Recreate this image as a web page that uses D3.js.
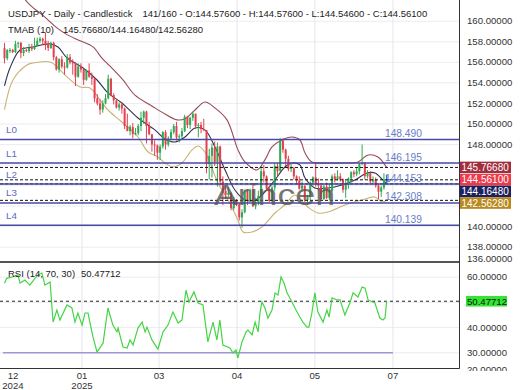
<!DOCTYPE html>
<html>
<head>
<meta charset="utf-8">
<script src="https://cdn.jsdelivr.net/npm/d3@7"></script>
<style>
  body { margin: 0; background: #fff; }
  svg { display: block; }
  text { font-family: "Liberation Sans", Arial, sans-serif; }
</style>
</head>
<body>
<svg id="chart"></svg>
<script>
// daily candles, index 0 = first visible bar
const openP = [
  157.4,156.4,157.1,157.2,157.0,157.8,157.9,156.9,157.2,157.1,
  157.4,157.3,157.6,158.1,158.3,158.1,157.7,157.4,157.9,156.5,
  155.3,156.3,155.6,155.5,156.5,156.0,155.9,154.6,155.6,155.3,
  154.3,155.2,154.6,154.4,152.5,152.0,151.4,152.0,152.5,154.4,
  152.8,152.3,151.6,151.9,151.5,149.8,149.3,149.7,149.0,149.1,
  149.8,150.6,151.2,149.8,149.0,148.0,147.9,147.2,147.8,149.2,
  148.0,148.6,149.2,149.8,148.7,148.8,149.3,150.7,149.9,150.6,
  151.0,149.8,149.9,149.5,149.4,146.1,146.9,147.7,146.3,147.8,
  144.4,143.5,143.1,143.3,141.8,142.6,142.2,140.9,141.4,143.4,
  142.6,143.6,142.0,142.3,143.0,145.4,144.9,143.7,142.5,143.8,
  145.9,145.4,148.4,147.5,146.6,145.6,145.7,144.9,144.5,143.7,
  144.0,142.6,142.9,144.3,144.8,144.2,144.0,142.7,143.9,142.8,
  143.5,144.9,144.6,144.9,144.6,143.6,144.1,144.7,145.3,145.1,
  145.4,146.1,146.2,144.9,145.2,144.4,144.6,144.0,143.4,143.8,
  144.576];
const highP = [
  157.9,157.3,157.4,157.3,158.1,158.0,158.0,157.5,157.3,157.8,
  157.8,158.4,158.4,158.5,158.4,158.9,158.1,158.0,158.0,156.6,
  156.4,156.6,156.0,156.8,156.8,156.3,156.0,155.9,155.9,155.4,
  155.3,155.9,155.0,154.5,152.9,152.4,152.3,152.9,154.8,154.5,
  153.0,152.3,152.1,152.1,151.6,151.0,149.9,150.1,149.6,150.0,
  151.2,151.3,151.3,150.2,149.0,148.4,148.0,148.0,149.3,149.4,
  148.8,149.5,150.0,150.2,149.0,149.6,150.9,150.8,150.7,151.2,
  151.0,150.1,150.2,150.5,149.4,147.6,148.1,148.3,148.2,147.9,
  144.9,143.9,143.8,143.3,142.9,142.7,142.3,141.7,143.6,143.6,
  143.7,144.0,142.8,143.5,145.9,146.0,145.0,144.0,144.0,146.2,
  146.2,148.6,148.6,147.6,146.9,146.2,145.8,145.0,144.9,144.4,
  144.0,143.1,144.4,144.9,146.3,144.7,144.1,144.1,144.3,144.2,
  145.1,145.2,145.5,145.2,144.7,144.5,144.8,145.4,145.5,145.8,
  146.2,148.0,146.3,145.5,145.4,144.9,144.8,144.2,144.0,145.2,
  144.576];
const lowP = [
  155.9,156.2,156.9,156.9,156.9,157.4,156.4,156.6,157.0,156.9,
  157.1,157.2,157.6,157.9,157.7,157.2,157.1,157.3,156.2,155.2,
  155.0,155.4,154.8,155.4,155.8,154.8,153.7,154.5,155.0,153.8,
  154.2,154.5,153.8,152.1,151.8,150.9,151.1,151.9,152.4,152.7,
  151.9,151.5,151.3,151.0,149.5,149.3,148.9,148.6,148.9,148.9,
  149.3,150.0,148.1,148.9,147.3,146.9,146.5,146.5,147.6,147.5,
  147.8,148.5,149.0,148.4,148.2,148.6,149.2,149.6,149.5,150.3,
  149.5,148.7,149.1,149.3,145.2,144.6,144.8,145.9,143.9,144.0,
  142.1,142.7,142.9,141.6,141.6,142.0,140.6,139.9,141.3,142.1,
  142.4,141.9,141.7,142.1,142.9,144.3,143.5,142.4,142.4,143.5,
  144.9,145.4,147.2,145.9,145.4,145.3,144.6,144.2,143.6,143.4,
  142.4,142.1,142.6,144.0,143.9,143.5,142.6,142.6,142.7,142.6,
  143.4,144.3,144.5,144.4,143.3,142.8,143.7,144.3,144.8,144.9,
  145.1,146.0,144.6,144.7,144.2,144.2,143.8,142.7,142.9,143.6,
  144.546];
const closeP = [
  156.4,157.2,157.2,157.0,157.8,157.9,156.9,157.2,157.1,157.4,
  157.3,157.6,158.1,158.3,158.1,157.7,157.4,157.9,156.5,155.3,
  156.3,155.6,155.5,156.5,156.0,155.9,154.6,155.6,155.3,154.3,
  155.2,154.6,154.4,152.5,152.0,151.4,152.0,152.5,154.4,152.8,
  152.3,151.6,151.9,151.5,149.8,149.3,149.7,149.0,149.1,149.8,
  150.6,151.2,149.8,149.0,148.0,147.9,147.2,147.8,149.2,148.0,
  148.6,149.2,149.8,148.7,148.8,149.3,150.7,149.9,150.6,151.0,
  149.8,149.9,149.5,149.4,146.1,146.9,147.7,146.3,147.8,144.4,
  143.5,143.1,143.3,141.8,142.6,142.2,140.9,141.4,143.4,142.6,
  143.6,142.0,142.3,143.0,145.4,144.9,143.7,142.5,143.8,145.9,
  145.4,148.4,147.5,146.6,145.6,145.7,144.9,144.5,143.7,144.0,
  142.6,142.9,144.3,144.8,144.2,144.0,142.7,143.9,142.8,143.5,
  144.9,144.6,144.9,144.6,143.6,144.1,144.7,145.3,145.1,145.4,
  146.1,146.2,144.9,145.2,144.4,144.6,144.0,143.4,143.8,144.6,
  144.561];

// TMA bands as [bar index, price]
const upperBand = [[0,163.5],[5.7,162.6],[9.3,161.6],[14.8,160.4],[19.2,159.35],[22.9,158.7],[27.7,158.1],
  [32.4,157.5],[35.7,156.4],[38.6,155.65],[43.4,154.3],[47.8,152.8],[54,151.75],[58.8,150.97],[63.2,150.4],
  [66.1,150.5],[69.8,151.36],[73.4,152.14],[77.1,151.56],[81.5,150.4],[85.5,147.5],[88.1,146.3],[92.5,145.52],
  [95.4,146.5],[98,147.76],[101.6,148.44],[105.3,148.73],[108.2,148.44],[110.1,147.18],[112.6,146.3],
  [118.5,146.2],[124.7,146.2],[129.5,146.3],[133.2,146.98],[136.8,146.79],[140,145.7668]];
const middleBand = [[0,153.7],[2,155.45],[5.7,157.2],[10.4,157.5],[16.7,157.79],[19.6,157.5],[22.9,156.43],
  [28.8,155.45],[33.9,154.28],[37.9,153.02],[43,152.04],[48.9,150.58],[55.1,149.42],[58.8,148.54],[62.4,148.25],
  [66.1,148.73],[69.8,149.61],[73.4,149.42],[77.1,147.76],[80.8,145.52],[84.4,143.57],[88.1,142.6],[91.8,142.6],
  [95.4,143.38],[99.1,144.55],[102.7,145.81],[105.3,146.2],[108.2,146.01],[110.1,144.74],[113.7,143.77],
  [118.5,143.77],[123.6,144.06],[128.4,144.55],[132.8,145.23],[135.7,145.23],[138.4,144.6],[140,144.1648]];
const lowerBand = [[0,151.4],[3.1,154.28],[8.2,155.74],[10.4,155.94],[16.7,156.04],[18.5,155.74],[22.9,154.58],
  [27.7,153.6],[31.3,153.51],[35,152.34],[37.9,151.36],[43,150.19],[48.9,148.73],[52.6,147.27],[56.2,146.79],
  [58.8,146.2],[61.7,145.81],[65,146.2],[68.7,147.47],[70.9,147.86],[73.4,147.27],[78.2,144.26],[81.9,142.6],
  [85.5,140.65],[87.4,139.48],[90.7,139.48],[94.3,139.97],[99.1,141.33],[102.7,142.11],[106.4,143.09],
  [111.1,141.92],[114.8,141.33],[118.5,141.43],[124.7,142.11],[130.9,142.6],[135.7,142.89],[138.4,142.41],
  [140,142.5628]];

// RSI(14) as [bar index, value]
const rsiPoints = [[0,57.6],[0.8,59.6],[3.1,60.2],[4.9,60.9],[5.7,57.7],[7.5,58.9],[9.3,56.9],[11.2,59.7],
  [12.3,60.9],[13.7,61.7],[14.8,56.9],[16.7,58.1],[17.8,42.2],[19.2,47],[20.3,43],[22.9,49],[24.7,47.8],
  [25.8,42.2],[26.9,45.8],[28.4,41],[29.5,45.8],[30.6,45.8],[32.4,36.3],[33.9,30.3],[36.1,33.8],[37.9,47.8],
  [39.7,41],[41.2,38.3],[41.6,39.8],[43.4,32.3],[44.9,31.9],[46,35.1],[47.1,33.1],[48.9,39.8],[50.4,42.2],
  [51.5,38.3],[52.2,40.2],[54,35.1],[56.2,31.5],[58.1,38.3],[59.9,41],[61.7,46.2],[63.6,41.8],[65,43],
  [66.5,54.9],[67.6,50.2],[69.4,54.2],[70.9,49.8],[72.7,49],[74.5,34.3],[76.4,42.2],[77.8,35.1],[78.9,43],
  [80,33.1],[82.6,31.9],[83.7,29.9],[84.8,31.1],[85.5,27.9],[87,34.3],[88.5,38.3],[89.2,39],[90.7,37.1],
  [91.8,42.2],[92.9,38.3],[93.6,45.8],[94.3,50.2],[95.4,47.8],[96.5,43.8],[98,47],[99.1,53.8],[100.2,53],
  [101.3,60.1],[102.4,57.7],[103.5,53.8],[105.3,50.2],[106.4,47.8],[108.2,44.2],[109.3,42.2],[110.8,40.2],
  [111.5,40.2],[112.6,45.8],[113.7,53.8],[114.8,46.2],[116.7,42.2],[118.1,47],[118.9,44.2],[120,51.8],
  [121.8,51],[122.9,51],[124.7,45],[126.5,49.8],[127.7,53.8],[129.5,52.2],[131,56.1],[132.1,55.7],
  [133.2,51],[135.7,49.8],[137.5,43.8],[138.6,43],[139.4,43.8],[140,50.47712]];

const levelNames = ["L0", "L1", "L2", "L3", "L4"];
const levelValues = [148.490, 146.195, 144.153, 142.308, 140.139];

const lastValues = [145.7668, 144.561, 144.1648, 142.5628];
const lastColors = ["#a12d3d", "#ec3a4b", "#1c215e", "#b8891e"];
const rsiLast = 50.47712;
const rsiOversold = 30;

const priceTicks = d3.range(136, 161, 2);
const rsiTicks = [20, 30, 40, 50, 60];
const monthTickIdx = [3.1, 28.4, 56.6, 85.2, 113.7, 142.3];
const monthLabels = ["12", "01", "03", "04", "05", "07"];
const yearLabels = ["2024", "2025", "", "", "", ""];

const titleText = "USDJPY - Daily - Candlestick";
const ohlcText = "141/160 - O:144.57600 - H:144.57600 - L:144.54600 - C:144.56100";
const tmabText = "TMAB (10)";
const tmabValText = "145.76680/144.16480/142.56280";

const width = 520, height = 390;
const plotW = 459;
const mainTop = 0, mainBottom = 262;
const rsiTop = 262, rsiBottom = 368;
const FONT = "Liberation Sans, Arial, sans-serif";

const svg = d3.select("#chart").attr("width", width).attr("height", height);
svg.append("rect").attr("width", width).attr("height", height).attr("fill", "#fff");

const x = d3.scaleLinear().domain([-1.65, 166.5]).range([0, plotW]);
const y = d3.scaleLinear().domain([136.56, 162.07]).range([mainBottom, mainTop]);
const yRsi = d3.scaleLinear().domain([23.94, 66.08]).range([rsiBottom, rsiTop]);
const fmt = d3.format(".5f");

const label = (parent, tx, ty, size, fill, s) => parent.append("text")
  .attr("x", tx).attr("y", ty).attr("font-family", FONT)
  .attr("font-size", size).attr("fill", fill).text(s);

const defs = svg.append("defs");
const clip = (id, cx, cy, w, h) => defs.append("clipPath").attr("id", id)
  .append("rect").attr("x", cx).attr("y", cy).attr("width", w).attr("height", h);
clip("clipMain", 0, mainTop, plotW, mainBottom - mainTop);
clip("clipRsi", 0, rsiTop, plotW, rsiBottom - rsiTop);
clip("clipMainAxis", plotW, mainTop, width - plotW, mainBottom - mainTop);
clip("clipRsiAxis", plotW, rsiTop + 1, width - plotW, rsiBottom - rsiTop + 2);

// ---- main pane
const g = svg.append("g").attr("clip-path", "url(#clipMain)");

g.selectAll(".hgrid").data(priceTicks).enter().append("line")
  .attr("x1", 0).attr("x2", plotW)
  .attr("y1", d => y(d)).attr("y2", d => y(d))
  .attr("stroke", "#ececf2");
g.selectAll(".vgrid").data(monthTickIdx.slice(1)).enter().append("line")
  .attr("x1", d => x(d)).attr("x2", d => x(d))
  .attr("y1", mainTop).attr("y2", mainBottom)
  .attr("stroke", "#e6e6ee");

const bandLine = d3.line().x(d => x(d[0])).y(d => y(d[1])).curve(d3.curveCatmullRom);
[[upperBand, "#9a4a58"], [middleBand, "#2f3350"], [lowerBand, "#c9b273"]].forEach(([data, col]) => {
  g.append("path").datum(data).attr("d", bandLine)
    .attr("fill", "none").attr("stroke", col).attr("stroke-width", 1.1);
});

const candles = openP.map((o, i) => ({ i, o, h: highP[i], l: lowP[i], c: closeP[i] }));
const candleColor = d => d.i === candles.length - 1 ? "#3a78c4" : (d.c >= d.o ? "#2eaa52" : "#e5404f");

g.selectAll(".wick").data(candles).enter().append("line")
  .attr("x1", d => x(d.i)).attr("x2", d => x(d.i))
  .attr("y1", d => y(d.h)).attr("y2", d => y(d.l))
  .attr("stroke", candleColor).attr("stroke-width", 1);

g.selectAll(".body").data(candles).enter().append("rect")
  .attr("x", d => x(d.i) - 1)
  .attr("y", d => y(Math.max(d.o, d.c)))
  .attr("width", 2)
  .attr("height", d => Math.max(1, Math.abs(y(d.o) - y(d.c))))
  .attr("fill", candleColor);

// marker on the current bar
const lastBar = candles[candles.length - 1];
g.append("line")
  .attr("x1", x(lastBar.i)).attr("x2", x(lastBar.i) + 4)
  .attr("y1", y(lastBar.c)).attr("y2", y(lastBar.c))
  .attr("stroke", "#3a78c4").attr("stroke-width", 1.5);
g.append("line")
  .attr("x1", x(lastBar.i)).attr("x2", x(lastBar.i))
  .attr("y1", y(lastBar.c) - 5).attr("y2", y(lastBar.c) + 4)
  .attr("stroke", "#3a78c4").attr("stroke-width", 1.5);

g.selectAll(".lastline").data(lastValues).enter().append("line")
  .attr("x1", 0).attr("x2", plotW)
  .attr("y1", d => y(d)).attr("y2", d => y(d))
  .attr("stroke", "#111").attr("stroke-dasharray", "3,2");

g.selectAll(".level").data(levelValues).enter().append("line")
  .attr("x1", 0).attr("x2", plotW)
  .attr("y1", d => y(d)).attr("y2", d => y(d))
  .attr("stroke", "#4848a6").attr("stroke-width", 1.5);

levelValues.forEach((v, i) => {
  label(g, 6, y(v) - 6.5, 9.8, "#5b6cc0", levelNames[i]);
  label(g, 385, y(v) - 2.5, 10.2, "#6a7cc8", v.toFixed(3));
});

label(g, 214, 205, 30, "#555", "Arincen")
  .attr("opacity", 0.8)
  .attr("textLength", 121).attr("lengthAdjust", "spacingAndGlyphs");

// header
label(svg, 8, 16.5, 9.5, "#222", titleText);
label(svg, 142.5, 16.5, 9.5, "#222", ohlcText);
label(svg, 8, 32.5, 9.5, "#222", tmabText);
label(svg, 63, 32.5, 9.5, "#222", tmabValText);

// last-value boxes, stacked so they do not overlap
const boxH = 11.6;
const boxY = [];
lastValues.forEach((v, i) => {
  const prev = i ? boxY[i - 1] : -Infinity;
  boxY.push(Math.max(y(v), prev + boxH));
});

// price axis (labels hidden where a value box sits)
const axMain = svg.append("g").attr("clip-path", "url(#clipMainAxis)");
const visiblePriceTicks = priceTicks.filter(p => boxY.every(b => Math.abs(y(p) - b) > 9));
axMain.append("g")
  .attr("transform", `translate(${plotW + 8},0)`)
  .call(d3.axisRight(y).tickValues(visiblePriceTicks).tickFormat(fmt).tickSize(0).tickPadding(0))
  .call(a => a.select(".domain").remove())
  .call(a => a.selectAll(".tick").attr("transform", d => `translate(0,${Math.min(y(d), mainBottom - 3)})`))
  .call(a => a.selectAll("text").attr("font-size", 9.6).attr("fill", "#333").attr("font-family", FONT));

lastValues.forEach((v, i) => {
  svg.append("rect").attr("x", plotW + 1).attr("y", boxY[i] - boxH / 2).attr("width", 51).attr("height", boxH)
    .attr("fill", lastColors[i]);
  label(svg, plotW + 2.5, boxY[i] + 3.6, 10, "#fff", fmt(v));
});

// ---- RSI pane
const r = svg.append("g").attr("clip-path", "url(#clipRsi)");
r.selectAll(".hgrid").data(rsiTicks).enter().append("line")
  .attr("x1", 0).attr("x2", plotW)
  .attr("y1", d => yRsi(d)).attr("y2", d => yRsi(d))
  .attr("stroke", "#ececf2");
r.selectAll(".vgrid").data(monthTickIdx.slice(1)).enter().append("line")
  .attr("x1", d => x(d)).attr("x2", d => x(d))
  .attr("y1", rsiTop).attr("y2", rsiBottom)
  .attr("stroke", "#e6e6ee");

r.append("line")
  .attr("x1", x(rsiPoints[0][0] - 0.6)).attr("x2", x(monthTickIdx[monthTickIdx.length - 1]))
  .attr("y1", yRsi(rsiOversold)).attr("y2", yRsi(rsiOversold))
  .attr("stroke", "#a095d8").attr("stroke-width", 1.5);

r.append("line")
  .attr("x1", 0).attr("x2", plotW)
  .attr("y1", yRsi(rsiLast)).attr("y2", yRsi(rsiLast))
  .attr("stroke", "#222").attr("stroke-dasharray", "3,3");

r.append("path").datum(rsiPoints)
  .attr("d", d3.line().x(d => x(d[0])).y(d => yRsi(d[1])))
  .attr("fill", "none").attr("stroke", "#45d445").attr("stroke-width", 1.2);

label(svg, 8, 277, 9.5, "#222", "RSI (14, 70, 30)");
label(svg, 81, 277, 9.5, "#222", fmt(rsiLast));

const axRsi = svg.append("g").attr("clip-path", "url(#clipRsiAxis)");
axRsi.append("g")
  .attr("transform", `translate(${plotW + 8},0)`)
  .call(d3.axisRight(yRsi).tickValues(rsiTicks.filter(v => Math.abs(v - rsiLast) > 4)).tickFormat(fmt).tickSize(0).tickPadding(0))
  .call(a => a.select(".domain").remove())
  .call(a => a.selectAll(".tick").attr("transform", d =>
    `translate(0,${Math.min(yRsi(d), rsiBottom + 2)})`))
  .call(a => a.selectAll("text").attr("font-size", 9.6).attr("fill", "#333").attr("font-family", FONT));

svg.append("rect").attr("x", plotW + 7).attr("y", yRsi(rsiLast) - 5.3).attr("width", 41).attr("height", 10.6)
  .attr("fill", "#33e633");
label(svg, plotW + 8, yRsi(rsiLast) + 3.6, 9.6, "#111", fmt(rsiLast));

// frame
svg.append("line").attr("x1", 0).attr("x2", plotW).attr("y1", rsiTop).attr("y2", rsiTop)
  .attr("stroke", "#555").attr("stroke-width", 2);
svg.append("line").attr("x1", 0).attr("x2", plotW + 0.5).attr("y1", rsiBottom + 0.5).attr("y2", rsiBottom + 0.5)
  .attr("stroke", "#333");
svg.append("line").attr("x1", plotW + 0.5).attr("x2", plotW + 0.5).attr("y1", 0).attr("y2", rsiBottom + 0.5)
  .attr("stroke", "#333");

// time axis
monthTickIdx.forEach((t, i) => {
  label(svg, x(t), 379, 9.6, "#333", monthLabels[i]).attr("text-anchor", "middle");
  if (yearLabels[i]) label(svg, x(t), 389, 9.6, "#333", yearLabels[i]).attr("text-anchor", "middle");
});
</script>
</body>
</html>
